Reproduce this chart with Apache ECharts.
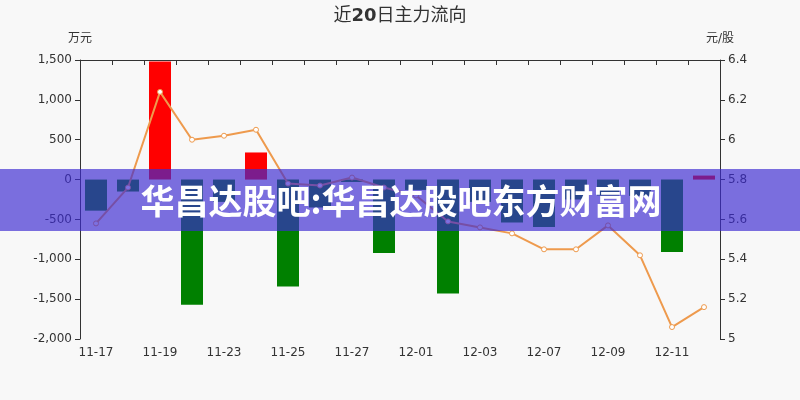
<!DOCTYPE html>
<html>
<head>
<meta charset="utf-8">
<script src="https://cdn.jsdelivr.net/npm/echarts@6/dist/echarts.min.js"></script>
<style>html,body{margin:0;padding:0;background:#f8f8f8}#c{width:800px;height:400px}</style>
</head>
<body>
<div id="c"></div>
<script>
const categories = ['11-17','11-18','11-19','11-20','11-23','11-24','11-25','11-26','11-27','11-30','12-01','12-02','12-03','12-04','12-07','12-08','12-09','12-10','12-11','12-14'];
const mainFlow = [-390,-150,1480,-1570,-280,340,-1340,-350,-30,-920,-130,-1430,-280,-540,-595,-250,-200,-205,-910,50];
const price = [5.58,5.76,6.24,6.00,6.02,6.05,5.78,5.77,5.81,5.76,5.72,5.59,5.56,5.53,5.45,5.45,5.57,5.42,5.06,5.16];
const leftTicks = {min:-2000, max:1500, interval:500};
const rightTicks = {min:5, max:6.4, interval:0.2};
const bannerText = '华昌达股吧:华昌达股吧东方财富网';

const FONT = '"DejaVu Sans", "Noto Sans CJK SC", sans-serif';
const chart = echarts.init(document.getElementById('c'));
const axisColor = '#333';
chart.setOption({
  backgroundColor: '#f8f8f8',
  animation: false,
  textStyle: {fontFamily: FONT},
  title: {
    text: '{a|近}{b|20}{a|日主力流向}',
    left: 'center',
    top: 2,
    textStyle: {
      fontFamily: FONT,
      rich: {
        a: {fontSize: 18, color: '#333', fontWeight: 'normal', fontFamily: FONT},
        b: {fontSize: 18, color: '#333', fontWeight: 'bold', fontFamily: FONT}
      }
    }
  },
  grid: {left: 80, right: 80, top: 60, bottom: 61},
  xAxis: [
    {
      type: 'category', data: categories, position: 'bottom',
      axisLine: {show: false}, axisTick: {show: false},
      axisLabel: {interval: 1, color: axisColor, fontSize: 12, fontFamily: FONT}
    },
    {
      type: 'category', data: categories, position: 'top',
      axisLine: {show: true, onZero: true, lineStyle: {color: axisColor}},
      axisTick: {show: true, inside: true, interval: 0, lineStyle: {color: axisColor}},
      axisLabel: {show: false}, splitLine: {show: false}
    }
  ],
  yAxis: [
    {
      type: 'value', name: '万元', position: 'left',
      min: leftTicks.min, max: leftTicks.max, interval: leftTicks.interval,
      nameTextStyle: {color: axisColor, fontSize: 12, fontFamily: FONT},
      axisLine: {show: true, lineStyle: {color: axisColor}},
      axisTick: {show: true, lineStyle: {color: axisColor}},
      axisLabel: {color: axisColor, fontSize: 12, fontFamily: FONT},
      splitLine: {show: false}
    },
    {
      type: 'value', name: '元/股', position: 'right',
      min: rightTicks.min, max: rightTicks.max, interval: rightTicks.interval,
      nameTextStyle: {color: axisColor, fontSize: 12, fontFamily: FONT},
      axisLine: {show: true, lineStyle: {color: axisColor}},
      axisTick: {show: true, lineStyle: {color: axisColor}},
      axisLabel: {color: axisColor, fontSize: 12, fontFamily: FONT},
      splitLine: {show: false}
    }
  ],
  series: [
    {
      type: 'bar', xAxisIndex: 0, yAxisIndex: 0, data: mainFlow, barWidth: 22,
      itemStyle: {color: p => p.value >= 0 ? '#ff0000' : '#008000'}
    },
    {
      type: 'line', xAxisIndex: 0, yAxisIndex: 1, data: price,
      symbol: 'circle', symbolSize: 5,
      lineStyle: {color: '#ee9a4d', width: 2},
      itemStyle: {color: '#fff', borderColor: '#ee9a4d', borderWidth: 1}
    }
  ],
  graphic: [
    {
      type: 'rect', left: 0, top: 169, z: 100,
      shape: {width: 800, height: 62},
      style: {fill: 'rgba(60,42,209,0.67)'}
    },
    {
      type: 'text', x: 401, y: 201, z: 101,
      style: {
        text: bannerText, fill: '#fff',
        font: 'bold 34px "Noto Sans CJK SC"',
        textAlign: 'center', textVerticalAlign: 'middle'
      }
    }
  ]
});
</script>
</body>
</html>
